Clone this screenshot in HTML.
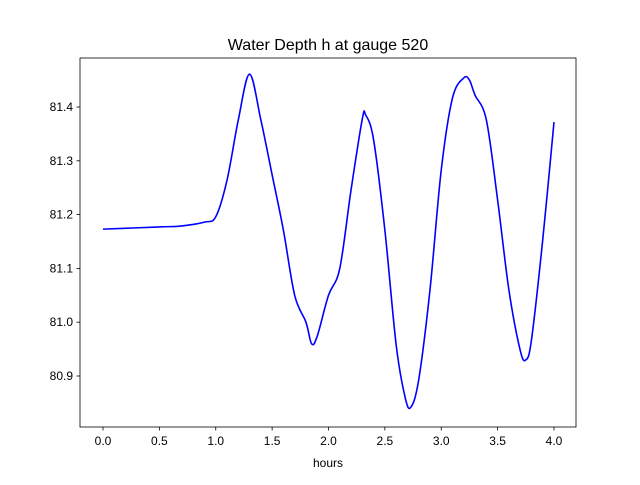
<!DOCTYPE html>
<html><head><meta charset="utf-8"><style>
body{margin:0;background:#fff}
svg text{font-family:"Liberation Sans","DejaVu Sans",sans-serif;font-size:12px;fill:#000}
</style></head><body>
<svg id="c" width="640" height="480">
<rect width="640" height="480" fill="#fff"/>
<text x="328" y="50" text-anchor="middle" style="font-size:16px">Water Depth h at gauge 520</text>
<g id="ax"></g>
<path id="line" fill="none" stroke="#0000ff" stroke-width="1.6"/>
<rect x="80" y="58" width="496" height="369" fill="none" stroke="#000" stroke-width="0.8"/>
<text x="328" y="467" text-anchor="middle">hours</text>
</svg>
<script>
const hours=[0,0.5,0.7,0.9,1.0,1.1,1.2,1.3,1.4,1.5,1.6,1.7,1.8,1.85,1.9,2.0,2.1,2.2,2.3,2.33,2.4,2.5,2.6,2.68,2.73,2.8,2.9,3.0,3.1,3.2,3.25,3.3,3.4,3.5,3.6,3.7,3.75,3.8,3.9,4.0];
const depth=[81.173,81.177,81.179,81.186,81.196,81.264,81.376,81.461,81.376,81.274,81.171,81.05,81.0,80.96,80.974,81.05,81.1,81.246,81.378,81.385,81.339,81.171,80.958,80.86,80.842,80.893,81.06,81.283,81.417,81.454,81.45,81.422,81.376,81.227,81.06,80.948,80.93,80.967,81.153,81.372];
const xTicks=[0,0.5,1,1.5,2,2.5,3,3.5,4];
const xTickLabels=["0.0","0.5","1.0","1.5","2.0","2.5","3.0","3.5","4.0"];
const yTicks=[80.9,81.0,81.1,81.2,81.3,81.4];
const yTickLabels=["80.9","81.0","81.1","81.2","81.3","81.4"];
const X=v=>103+v*112.75;
const Y=v=>107+(81.4-v)*538;
const NS="http://www.w3.org/2000/svg";
const ax=document.getElementById('ax');
function mk(t,a){const e=document.createElementNS(NS,t);for(const k in a)e.setAttribute(k,a[k]);ax.appendChild(e);return e;}
xTicks.forEach((v,i)=>{
 const l=mk('line',{x1:X(v),x2:X(v),y1:427,y2:430.5,stroke:'#000','stroke-width':0.8});
 
 
 const t=mk('text',{x:X(v),y:445,'text-anchor':'middle'});t.textContent=xTickLabels[i];
 
 
});
yTicks.forEach((v,i)=>{
 const l=mk('line',{x1:76.5,x2:80,y1:Y(v),y2:Y(v),stroke:'#000','stroke-width':0.8});
 
 
 const t=mk('text',{x:73,y:Y(v)+4,'text-anchor':'end'});t.textContent=yTickLabels[i];
 
 
});
const P=hours.map((h,i)=>[X(h),Y(depth[i])]);
let d='M'+P[0][0]+','+P[0][1];
for(let i=0;i<P.length-1;i++){
 const p0=P[Math.max(0,i-1)],p1=P[i],p2=P[i+1],p3=P[Math.min(P.length-1,i+2)];
 const c1=[p1[0]+(p2[0]-p0[0])/6,p1[1]+(p2[1]-p0[1])/6];
 const c2=[p2[0]-(p3[0]-p1[0])/6,p2[1]-(p3[1]-p1[1])/6];
 d+=` C${c1[0]},${c1[1]} ${c2[0]},${c2[1]} ${p2[0]},${p2[1]}`;
}
document.getElementById('line').setAttribute('d',d);
</script>
</body></html>
